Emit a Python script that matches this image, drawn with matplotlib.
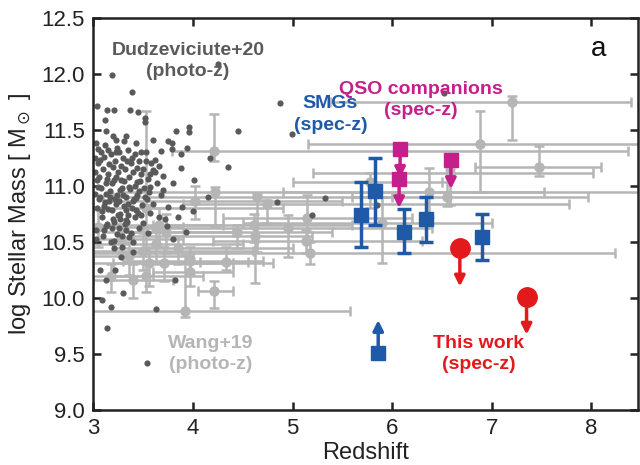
import matplotlib
matplotlib.use('Agg')
import matplotlib.pyplot as plt
import numpy as np

plt.rcParams['font.family'] = ['Liberation Sans', 'DejaVu Sans']
plt.rcParams['mathtext.fontset'] = 'dejavusans'

# Dudzeviciute+20 (photo-z), dark grey dots
dud_z = [3.19, 3.39, 4.25, 4.87, 4.99, 4.45, 4.35, 4.17, 4.01, 4.15, 4.84, 5.33, 5.20, 5.85, 6.52,
         3.14, 3.21, 3.04, 3.37, 3.45, 3.52, 3.52, 3.12, 3.96, 3.96, 3.83, 3.13, 3.20, 3.23, 3.33,
         3.31, 3.43, 3.60, 3.75, 3.79, 3.94, 3.79, 3.68, 3.88, 3.05, 3.15, 3.23, 3.88, 3.70, 3.62,
         3.53, 3.60, 3.05, 3.13, 3.80, 3.57, 3.43, 3.75, 3.89, 4.00, 3.25, 3.33, 3.43, 3.33, 3.13,
         3.50, 3.80, 3.40, 3.21, 3.33, 3.21, 3.40, 3.22, 3.28, 3.07, 3.13, 3.82, 3.30, 3.18, 3.63,
         3.14, 3.54, 3.93, 3.09,
         3.03, 3.08, 3.12, 3.18, 3.22, 3.26, 3.30, 3.35, 3.38, 3.42, 3.46, 3.50, 3.05, 3.10, 3.15,
         3.20, 3.25, 3.28, 3.32, 3.36, 3.40, 3.44, 3.48, 3.55, 3.58, 3.62, 3.66, 3.04, 3.08, 3.13,
         3.17, 3.21, 3.24, 3.29, 3.33, 3.37, 3.41, 3.46, 3.52, 3.06, 3.11, 3.16, 3.19, 3.23, 3.27,
         3.31, 3.35, 3.39, 3.45, 3.09, 3.14, 3.20, 3.26, 3.32, 3.38, 3.03, 3.10, 3.18, 3.24, 3.29,
         3.02, 3.07, 3.11, 3.16, 3.24, 3.28, 3.34, 3.39, 3.44, 3.48, 3.53, 3.57, 3.02, 3.06, 3.14,
         3.19, 3.23, 3.27, 3.31, 3.36, 3.42, 3.47, 3.51, 3.56, 3.64, 3.70, 3.02, 3.07, 3.12, 3.17,
         3.22, 3.26, 3.30, 3.35, 3.40, 3.44, 3.49, 3.54, 3.60, 3.68, 3.04, 3.09, 3.15, 3.21, 3.27,
         3.34, 3.42, 3.48, 3.57, 3.72, 3.03, 3.11, 3.19, 3.29, 3.36, 3.46, 3.55, 3.66, 3.74, 3.85]
dud_m = [11.99, 11.84, 12.09, 11.74, 11.46, 11.49, 11.17, 11.25, 11.05, 10.90, 10.85, 10.89, 10.74, 10.83, 11.83,
         11.68, 11.68, 11.71, 11.68, 11.66, 11.60, 11.57, 11.59, 11.52, 11.48, 11.49, 11.49, 11.44, 11.41, 11.44,
         11.40, 11.38, 11.41, 11.40, 11.38, 11.34, 11.33, 11.31, 11.28, 11.33, 11.32, 11.30, 11.16, 11.09, 11.23,
         11.30, 11.14, 10.99, 10.93, 11.02, 10.99, 10.89, 10.81, 10.81, 10.77, 10.74, 10.78, 10.78, 10.69, 10.64,
         10.67, 10.52, 10.50, 10.51, 10.60, 10.44, 10.41, 10.25, 10.36, 10.25, 10.16, 10.16, 10.04, 9.92, 9.90,
         9.73, 9.42, 10.59, 9.98,
         11.38, 11.30, 11.36, 11.28, 11.22, 11.30, 11.25, 11.32, 11.20, 11.28, 11.22, 11.15, 11.20, 11.15, 11.10,
         11.17, 11.12, 11.05, 11.15, 11.08, 11.12, 11.03, 11.10, 11.06, 11.20, 11.12, 11.18, 11.05, 10.98, 11.02,
         10.95, 11.05, 10.92, 10.98, 10.90, 10.97, 10.88, 10.95, 10.90, 10.88, 10.82, 10.86, 10.78, 10.84, 10.75,
         10.82, 10.74, 10.80, 10.76, 10.72, 10.66, 10.70, 10.62, 10.66, 10.58, 10.60, 10.55, 10.50, 10.57, 10.45,
         11.25, 11.23, 11.26, 11.19, 11.34, 11.18, 11.22, 11.25, 11.16, 11.30, 11.22, 11.10, 11.12, 11.08, 11.06,
         11.02, 11.08, 10.96, 11.04, 10.99, 11.00, 11.04, 10.98, 10.94, 11.02, 10.96, 10.93, 10.90, 10.85, 10.90,
         10.88, 10.86, 10.92, 10.84, 10.86, 10.92, 10.83, 10.88, 10.84, 10.92, 10.80, 10.77, 10.79, 10.68, 10.70,
         10.68, 10.72, 10.74, 10.76, 10.70, 10.52, 10.60, 10.62, 10.55, 10.54, 10.62, 10.58, 10.72, 10.64, 10.72]

# Wang+19 (photo-z): value, lower and upper bounds
wang_z = [7.20, 6.88, 7.47, 6.58, 6.55, 6.37, 4.21, 4.22, 4.64, 4.74, 4.02, 3.53, 5.78, 5.90, 5.14,
          4.95, 5.13, 5.17, 4.61, 4.44, 4.62, 3.66, 3.73, 3.63, 3.36, 3.56, 3.71, 3.97, 3.18, 3.40,
          3.53, 3.97, 3.05, 4.33, 4.21, 3.92, 3.50, 3.85, 3.28]
wang_z_lo = [5.38, 5.15, 6.83, 5.21, 5.60, 4.90, 3.79, 3.30, 3.20, 3.90, 3.10, 3.00, 5.00, 4.50, 4.30,
             3.50, 4.20, 2.90, 3.60, 3.30, 3.40, 2.90, 3.10, 2.90, 2.90, 3.00, 3.20, 3.30, 2.90, 3.00,
             3.20, 3.60, 2.90, 4.07, 4.05, 2.80, 2.90, 3.20, 2.90]
wang_z_hi = [8.40, 8.60, 8.10, 8.02, 7.97, 7.53, 8.37, 8.60, 6.00, 7.78, 5.50, 4.90, 6.50, 7.00, 6.20,
             6.40, 6.30, 8.24, 5.60, 5.40, 5.20, 4.30, 4.40, 4.50, 4.00, 4.40, 4.80, 4.70, 3.60, 3.80,
             4.10, 4.40, 3.90, 4.55, 4.40, 5.58, 4.60, 5.00, 3.90]
wang_m = [11.75, 11.37, 11.17, 11.11, 10.90, 10.94, 11.31, 10.94, 10.90, 10.84, 10.86, 10.80, 11.03, 10.67, 10.71,
          10.62, 10.51, 10.40, 10.65, 10.59, 10.55, 10.65, 10.59, 10.48, 10.37, 10.31, 10.31, 10.33, 10.19, 10.16,
          10.19, 10.23, 10.63, 10.32, 10.06, 9.88, 10.42, 10.44, 10.52]
wang_m_lo = [11.41, 10.94, 11.09, 10.83, 10.82, 10.72, 11.22, 10.63, 10.41, 10.67, 10.70, 10.40, 10.80, 10.31, 10.50,
             10.36, 10.40, 10.30, 10.50, 10.44, 10.13, 10.45, 10.40, 10.30, 10.20, 10.10, 10.15, 10.20, 10.05, 10.00,
             10.05, 10.10, 10.45, 10.25, 9.91, 9.83, 10.25, 10.30, 10.40]
wang_m_hi = [11.80, 11.67, 11.35, 11.15, 11.03, 11.16, 11.64, 10.99, 10.93, 10.87, 11.00, 11.67, 11.11, 10.90, 10.92,
             10.74, 10.60, 10.50, 10.75, 10.65, 10.66, 10.80, 10.75, 10.60, 10.50, 10.45, 10.45, 10.45, 10.30, 10.30,
             10.30, 10.35, 10.80, 10.45, 10.15, 10.38, 10.58, 10.55, 10.66]

# SMGs (spec-z)
smg_z = [5.69, 5.83, 6.12, 6.34, 6.90]
smg_m = [10.74, 10.95, 10.59, 10.70, 10.54]
smg_m_lo = [10.45, 10.65, 10.40, 10.50, 10.34]
smg_m_hi = [11.03, 11.25, 10.79, 10.90, 10.75]
smg_lim_z = [5.86]
smg_lim_m = [9.51]

# QSO companions (spec-z), upper limits
qso_z = [6.08, 6.07, 6.59]
qso_m = [11.33, 11.06, 11.23]

# This work (spec-z), upper limits
tw_z = [6.68, 7.35]
tw_m = [10.44, 10.01]

c_dud = '#5a5a5a'
c_wang = '#b5b5b5'
c_smg = '#1f5aa8'
c_qso = '#c4208c'
c_tw = '#e31a1c'

fig = plt.figure(figsize=(6.4, 4.65), dpi=100)
ax = fig.add_axes([0.146, 0.119, 0.851, 0.843])

wz = np.array(wang_z)
wm = np.array(wang_m)
ax.errorbar(wz, wm,
            xerr=[wz - np.array(wang_z_lo), np.array(wang_z_hi) - wz],
            yerr=[wm - np.array(wang_m_lo), np.array(wang_m_hi) - wm],
            fmt='o', color=c_wang, ms=6.5, lw=1.8, capsize=3.5, capthick=1.8, zorder=1)

ax.scatter(dud_z, dud_m, s=20, color=c_dud, lw=0, zorder=2)

sm = np.array(smg_m)
ax.errorbar(smg_z, sm, yerr=[sm - np.array(smg_m_lo), np.array(smg_m_hi) - sm],
            fmt='s', color=c_smg, ms=10, lw=2.5, capsize=5, capthick=2.5, zorder=4)
ax.plot(smg_lim_z, smg_lim_m, 's', color=c_smg, ms=10, zorder=4)
for z, m in zip(smg_lim_z, smg_lim_m):
    ax.annotate('', xy=(z, m + 0.29), xytext=(z, m),
                arrowprops=dict(arrowstyle='-|>', color=c_smg, lw=2.5, mutation_scale=15,
                                shrinkA=0, shrinkB=0), zorder=4)

for z, m in zip(qso_z, qso_m):
    ax.annotate('', xy=(z, m - 0.26), xytext=(z, m),
                arrowprops=dict(arrowstyle='-|>', color=c_qso, lw=2.5, mutation_scale=15,
                                shrinkA=0, shrinkB=0), zorder=5)
ax.plot(qso_z, qso_m, 's', color=c_qso, ms=10, zorder=5)

for z, m in zip(tw_z, tw_m):
    ax.annotate('', xy=(z, m - 0.34), xytext=(z, m),
                arrowprops=dict(arrowstyle='-|>', color=c_tw, lw=2.5, mutation_scale=15,
                                shrinkA=0, shrinkB=0), zorder=6)
ax.plot(tw_z, tw_m, 'o', color=c_tw, ms=14, zorder=6)

# labels
kw = dict(ha='center', va='center', fontsize=14, fontweight='bold', zorder=7)
ax.text(3.95, 12.21, 'Dudzeviciute+20', color=c_dud, **kw)
ax.text(3.95, 12.02, '(photo-z)', color=c_dud, **kw)
ax.text(6.29, 11.86, 'QSO companions', color=c_qso, **kw)
ax.text(6.29, 11.67, '(spec-z)', color=c_qso, **kw)
ax.text(5.38, 11.73, 'SMGs', color=c_smg, **kw)
ax.text(5.38, 11.54, '(spec-z)', color=c_smg, **kw)
ax.text(4.18, 9.59, 'Wang+19', color=c_wang, **kw)
ax.text(4.18, 9.40, '(photo-z)', color=c_wang, **kw)
ax.text(6.87, 9.59, 'This work', color=c_tw, **kw)
ax.text(6.87, 9.40, '(spec-z)', color=c_tw, **kw)
ax.text(8.07, 12.22, 'a', ha='center', va='center', fontsize=20, color='#111')

ax.set_xlim(3, 8.47)
ax.set_ylim(9.0, 12.5)
ax.set_xticks([3, 4, 5, 6, 7, 8])
ax.set_yticks(np.arange(9.0, 12.51, 0.5))
ax.set_yticklabels(['%.1f' % v for v in np.arange(9.0, 12.51, 0.5)])
ax.tick_params(direction='in', top=True, right=True, length=6, width=1.8,
               labelsize=16, colors='#222', pad=6)
for s in ax.spines.values():
    s.set_linewidth(1.8)
    s.set_color('#222')
ax.set_xlabel('Redshift', fontsize=17, color='#222', labelpad=2)
ax.set_ylabel(r'log Stellar Mass [ M$_\odot$ ]', fontsize=17, color='#222', labelpad=6)

fig.savefig('out.png', dpi=100)
